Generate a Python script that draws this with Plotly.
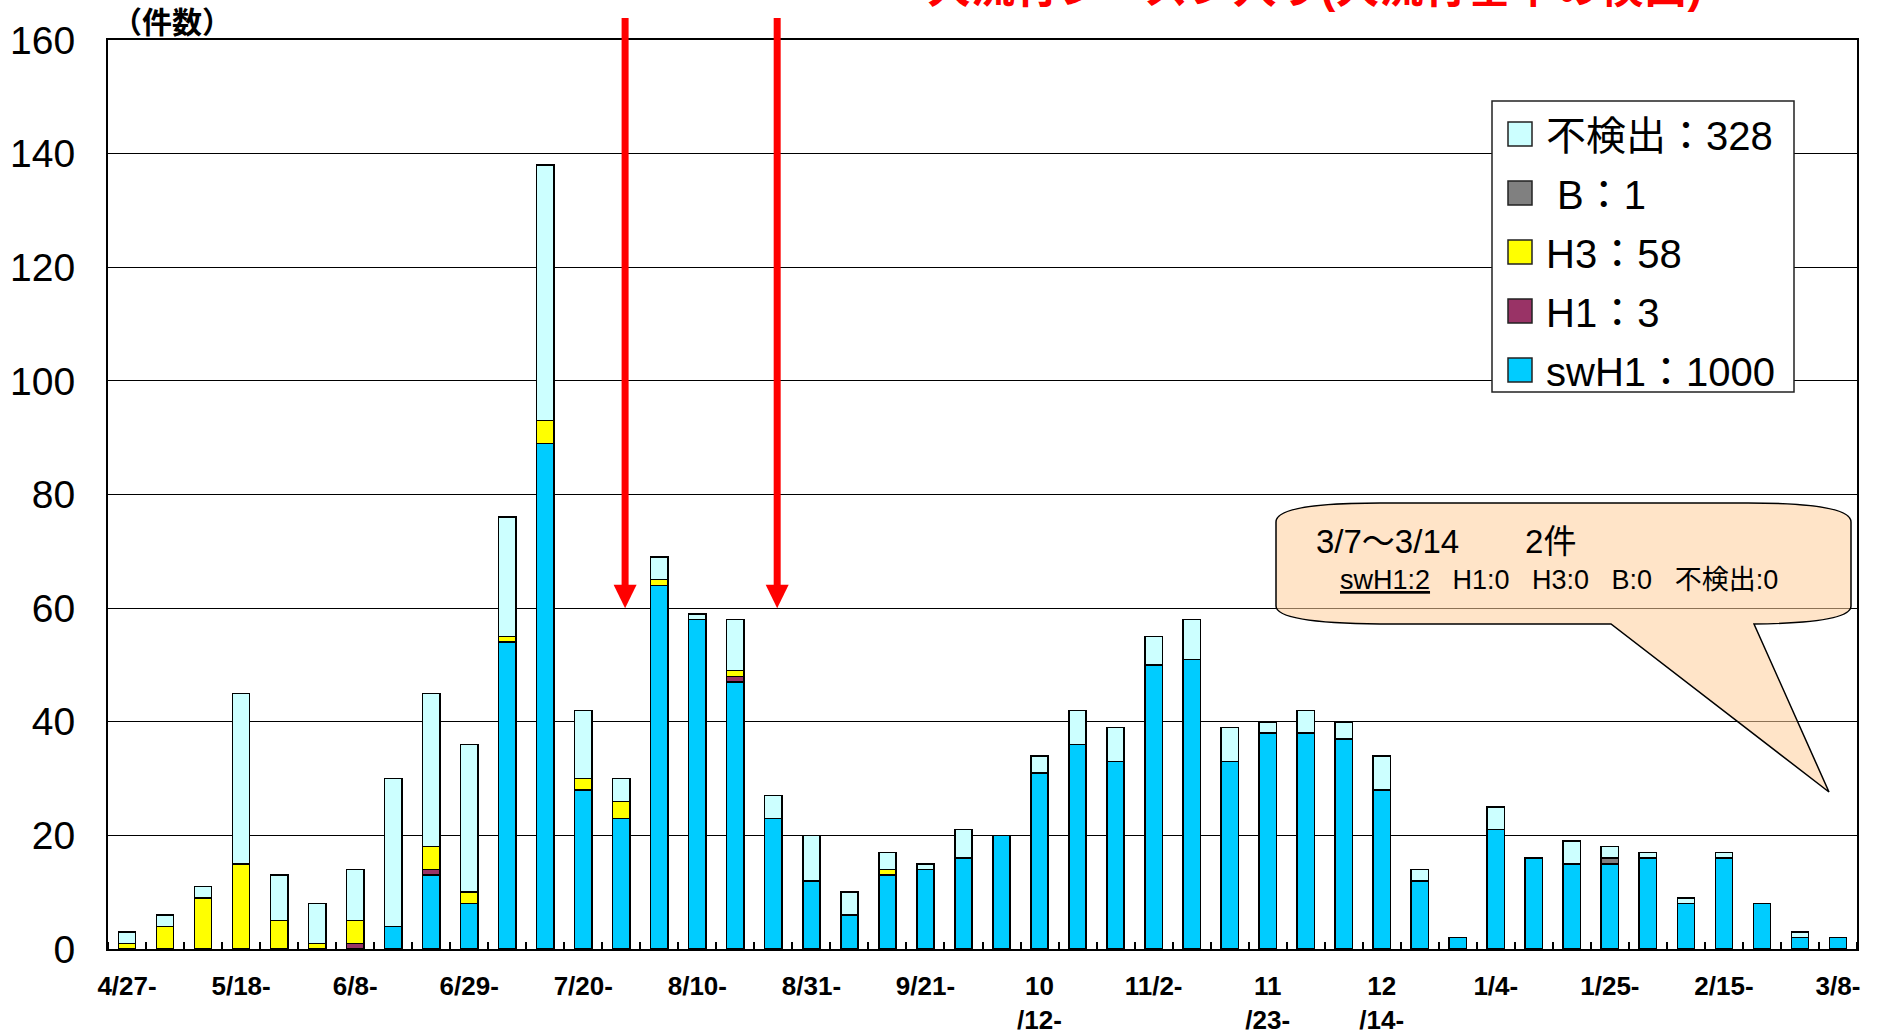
import plotly.graph_objects as go

# ---------------- data ----------------
weeks = ["4/27", "5/4", "5/11", "5/18", "5/25", "6/1", "6/8", "6/15", "6/22", "6/29",
         "7/6", "7/13", "7/20", "7/27", "8/3", "8/10", "8/17", "8/24", "8/31", "9/7",
         "9/14", "9/21", "9/28", "10/5", "10/12", "10/19", "10/26", "11/2", "11/9", "11/16",
         "11/23", "11/30", "12/7", "12/14", "12/21", "12/28", "1/4", "1/11", "1/18", "1/25",
         "2/1", "2/8", "2/15", "2/22", "3/1", "3/8"]

swH1 = [0, 0, 0, 0, 0, 0, 0, 4, 13, 8, 54, 89, 28, 23, 64, 58, 47, 23, 12, 6,
        13, 14, 16, 20, 31, 36, 33, 50, 51, 33, 38, 38, 37, 28, 12, 2, 21, 16, 15, 15,
        16, 8, 16, 8, 2, 2]
H1 = [0, 0, 0, 0, 0, 0, 1, 0, 1, 0, 0, 0, 0, 0, 0, 0, 1, 0, 0, 0,
      0, 0, 0, 0, 0, 0, 0, 0, 0, 0, 0, 0, 0, 0, 0, 0, 0, 0, 0, 0,
      0, 0, 0, 0, 0, 0]
H3 = [1, 4, 9, 15, 5, 1, 4, 0, 4, 2, 1, 4, 2, 3, 1, 0, 1, 0, 0, 0,
      1, 0, 0, 0, 0, 0, 0, 0, 0, 0, 0, 0, 0, 0, 0, 0, 0, 0, 0, 0,
      0, 0, 0, 0, 0, 0]
B = [0, 0, 0, 0, 0, 0, 0, 0, 0, 0, 0, 0, 0, 0, 0, 0, 0, 0, 0, 0,
     0, 0, 0, 0, 0, 0, 0, 0, 0, 0, 0, 0, 0, 0, 0, 0, 0, 0, 0, 1,
     0, 0, 0, 0, 0, 0]
ND = [2, 2, 2, 30, 8, 7, 9, 26, 27, 26, 21, 45, 12, 4, 4, 1, 9, 4, 8, 4,
      3, 1, 5, 0, 3, 6, 6, 5, 7, 6, 2, 4, 3, 6, 2, 0, 4, 0, 4, 2,
      1, 1, 1, 0, 1, 0]

series_names = ["swH1", "H1", "H3", "B", "不検出"]
series_values = [swH1, H1, H3, B, ND]
series_colors = ["#00CCFF", "#993366", "#FFFF00", "#808080", "#CCFFFF"]

legend_labels = ["不検出：328", " B：1", "H3：58", "H1：3", "swH1：1000"]
legend_colors = ["#CCFFFF", "#808080", "#FFFF00", "#993366", "#00CCFF"]

tick_idx = list(range(0, 46, 3))
tick_labels = ["4/27-", "5/18-", "6/8-", "6/29-", "7/20-", "8/10-", "8/31-", "9/21-",
               "10<br>/12-", "11/2-", "11<br>/23-", "12<br>/14-", "1/4-", "1/25-",
               "2/15-", "3/8-"]

arrow_x = [13.1, 17.1]
arrow_tip = 60

y_unit = "（件数）"
top_title = "大流行シーズン入り(大流行基準の検出)"
callout_title = "3/7～3/14　　2件"
callout_detail = "<u>swH1:2</u>   H1:0   H3:0   B:0   不検出:0"

# ---------------- geometry helpers (pixel -> paper) ----------------
W, H = 1881, 1034
L, R, T, BOT = 108, 1857, 40, 949


def px(x):
    return (x - L) / (R - L)


def py(y):
    return (BOT - y) / (BOT - T)


FONT = "Liberation Sans, Arial, Noto Sans CJK JP"
CJK = "Liberation Sans, Noto Sans CJK JP"

fig = go.Figure()
for name, vals, col in zip(series_names, series_values, series_colors):
    fig.add_trace(go.Bar(
        x=list(range(len(weeks))),
        y=[v if v else None for v in vals],
        name=name,
        marker=dict(color=col, line=dict(color="black", width=1.5)),
        showlegend=False,
        hovertext=weeks,
    ))

shapes = []
annotations = []

# red arrows
for ax_ in arrow_x:
    shapes.append(dict(type="line", xref="x", yref="paper", x0=ax_, x1=ax_,
                       y0=py(18), y1=py(586), line=dict(color="#FF0000", width=7),
                       layer="above"))
    hw = 11.5 / ((R - L) / 46)
    shapes.append(dict(type="path", xref="x", yref="y",
                       path=f"M {ax_ - hw} {arrow_tip + 4.1} L {ax_ + hw} {arrow_tip + 4.1} L {ax_} {arrow_tip} Z",
                       fillcolor="#FF0000", line=dict(color="#FF0000", width=0), layer="above"))

# legend box
shapes.append(dict(type="rect", xref="paper", yref="paper",
                   x0=px(1492), x1=px(1794), y0=py(392), y1=py(101),
                   fillcolor="white", line=dict(color="#222222", width=1.5), layer="above"))
row_y = [134, 193, 252, 311, 370]
for lab, col, ry in zip(legend_labels, legend_colors, row_y):
    shapes.append(dict(type="rect", xref="paper", yref="paper",
                       x0=px(1508), x1=px(1532), y0=py(ry + 12), y1=py(ry - 12),
                       fillcolor=col, line=dict(color="#222222", width=1.5), layer="above"))
    annotations.append(dict(xref="paper", yref="paper", x=px(1544), y=py(ry + 2),
                            xanchor="left", yanchor="middle", text=lab, showarrow=False,
                            font=dict(family=CJK, size=40, color="black")))

# callout bubble
pts = lambda x, y: f"{px(x)} {py(y)}"
callout_path = (
    f"M {pts(1276, 522)} Q {pts(1276, 503)} {pts(1380, 503)} "
    f"L {pts(1748, 503)} Q {pts(1851, 503)} {pts(1851, 522)} "
    f"L {pts(1851, 606)} Q {pts(1851, 623)} {pts(1754, 624)} "
    f"L {pts(1829, 792)} L {pts(1611, 624)} "
    f"L {pts(1380, 624)} Q {pts(1276, 623)} {pts(1276, 606)} Z"
)
shapes.append(dict(type="path", xref="paper", yref="paper", path=callout_path,
                   fillcolor="rgba(255,205,155,0.55)", line=dict(color="black", width=1.5),
                   layer="above"))
annotations.append(dict(xref="paper", yref="paper", x=px(1314), y=py(541),
                        xanchor="left", yanchor="middle", text=callout_title, showarrow=False,
                        font=dict(family=CJK, size=33, color="black")))
annotations.append(dict(xref="paper", yref="paper", x=px(1338), y=py(580),
                        xanchor="left", yanchor="middle", text=callout_detail, showarrow=False,
                        font=dict(family=CJK, size=27, color="black")))

# unit label
annotations.append(dict(xref="paper", yref="paper", x=px(110), y=py(23),
                        xanchor="left", yanchor="middle", text=y_unit, showarrow=False,
                        font=dict(family=CJK, size=30, color="black", weight="bold")))

# cut-off red title at top
annotations.append(dict(xref="paper", yref="paper", x=px(1314), y=py(14),
                        xanchor="center", yanchor="bottom", text=top_title, showarrow=False,
                        font=dict(family=CJK, size=44, color="#FF0000", weight="bold")))

fig.update_layout(
    width=W, height=H,
    margin=dict(l=L, r=W - R, t=T, b=H - BOT, pad=0),
    paper_bgcolor="white", plot_bgcolor="white",
    barmode="stack", bargap=0.545,
    showlegend=False,
    font=dict(family=FONT, color="black"),
    shapes=shapes, annotations=annotations,
    xaxis=dict(
        range=[-0.5, len(weeks) - 0.5], automargin=False,
        tickmode="array", tickvals=tick_idx, ticktext=tick_labels,
        ticks="", showgrid=False, zeroline=False,
        showline=True, linecolor="black", linewidth=2, mirror=True,
        tickfont=dict(family=FONT, size=26, color="black", weight="bold"),
        ticklabelstandoff=13,
        minor=dict(tickmode="linear", tick0=0.5, dtick=1, ticks="inside",
                   ticklen=7, tickwidth=1.5, tickcolor="black", showgrid=False),
    ),
    yaxis=dict(
        range=[0, 160], dtick=20, tick0=0, automargin=False,
        showgrid=True, gridcolor="black", gridwidth=1.2, zeroline=False,
        showline=True, linecolor="black", linewidth=2, mirror=True,
        ticks="", tickfont=dict(family=FONT, size=39, color="black"),
        ticklabelstandoff=23,
    ),
)

fig.write_html("out.html", include_plotlyjs=True, config={"displayModeBar": False},
               post_script="document.body.style.margin='0';")
